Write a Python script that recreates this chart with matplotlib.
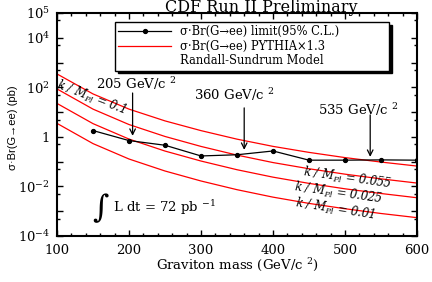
import matplotlib
matplotlib.use('Agg')
import matplotlib.pyplot as plt
from matplotlib.lines import Line2D
from matplotlib.ticker import FixedLocator, MultipleLocator, FixedFormatter, NullFormatter

# ---------------- data ----------------
mass_limit = [150, 200, 250, 300, 350, 400, 450, 500, 550, 600]
limit_xsec = [1.8, 0.71, 0.46, 0.17, 0.19, 0.27, 0.115, 0.115, 0.118, 0.115]

mass_rs = [100, 150, 200, 250, 300, 350, 400, 450, 500, 550, 600]
rs_k0100 = [347, 54.2, 13.2, 4.42, 1.79, 0.81, 0.414, 0.237, 0.146, 0.0964, 0.0665]
rs_k0055 = [86.1, 13.2, 3.15, 1.04, 0.412, 0.184, 0.092, 0.0518, 0.0313, 0.0202, 0.0137]
rs_k0025 = [22.4, 3.43, 0.816, 0.268, 0.106, 0.0473, 0.0237, 0.0133, 0.00803, 0.00519, 0.0035]
rs_k0010 = [3.51, 0.536, 0.128, 0.042, 0.0166, 0.0074, 0.0037, 0.00207, 0.00126, 0.00081, 0.00055]

ytick_values = [1e-4, 1e-3, 1e-2, 1e-1, 1, 1e1, 1e2, 1e3, 1e4, 1e5]
ytick_labels = ['$10^{-4}$', '', '$10^{-2}$', '', '1', '', '$10^{2}$', '', '$10^{4}$', '$10^{5}$']
xtick_values = [100, 200, 300, 400, 500, 600]

plt.rcParams['font.family'] = ['DejaVu Serif']
plt.rcParams['mathtext.fontset'] = 'dejavuserif'

fig = plt.figure(figsize=(4.32, 2.82), dpi=100)
ax = fig.add_axes([57/432, 1-236/282, 360/432, 223/282])

for ys in (rs_k0100, rs_k0055, rs_k0025, rs_k0010):
    ax.plot(mass_rs, ys, color='#ff0000', lw=0.9)
ax.plot(mass_limit, limit_xsec, color='black', lw=0.9, marker='o', ms=2.8)

ax.set_yscale('log')
ax.set_xlim(100, 600)
ax.set_ylim(1e-4, 1e5)

ax.yaxis.set_major_locator(FixedLocator(ytick_values))
ax.yaxis.set_major_formatter(FixedFormatter(ytick_labels))
ax.yaxis.set_minor_locator(FixedLocator([5 * v for v in ytick_values[:-1]]))
ax.yaxis.set_minor_formatter(NullFormatter())
ax.xaxis.set_major_locator(FixedLocator(xtick_values))
ax.xaxis.set_minor_locator(MultipleLocator(20))

ax.tick_params(which='both', direction='in', top=True, right=True, width=1.0)
ax.tick_params(which='major', length=4.5)
ax.tick_params(which='minor', length=2.2)
ax.tick_params(axis='x', labelsize=9.5, pad=6)
ax.tick_params(axis='y', labelsize=9.5, pad=5)
for sp in ax.spines.values():
    sp.set_linewidth(1.5)

ax.set_xlabel('Graviton mass (GeV/c $^{2}$)', fontsize=9.5, va='center')
ax.xaxis.set_label_coords(0.5, -0.128)
ax.set_ylabel('σ·Br(G→ee) (pb)', fontsize=8,
              family=['Liberation Sans Narrow', 'Liberation Sans', 'DejaVu Sans'], va='center')
ax.yaxis.set_label_coords(-0.122, 0.484)

fig.text(0.605, 1 - 7.5/282, 'CDF Run II Preliminary', ha='center', va='center', fontsize=11.5)

# legend
handles = [Line2D([], [], color='black', lw=0.9, marker='o', ms=2.8),
           Line2D([], [], color='#ff0000', lw=0.9),
           Line2D([], [], color='none')]
labels = ['σ·Br(G→ee) limit(95% C.L.)', 'σ·Br(G→ee) PYTHIA×1.3', 'Randall-Sundrum Model']
leg = ax.legend(handles, labels, loc='upper left', mode='expand',
                bbox_to_anchor=(0.161, 0.731, 0.761, 0.229), fontsize=8.3,
                handlelength=4.6, handletextpad=0.75, labelspacing=0.12,
                borderpad=0.3, numpoints=1, fancybox=False,
                shadow={'color': 'black', 'alpha': 1.0}, framealpha=1, borderaxespad=0)
leg.get_frame().set_edgecolor('black')
leg.get_frame().set_linewidth(1.0)

# mass annotations
arrow = dict(arrowstyle='->', color='black', lw=0.9, shrinkA=0, shrinkB=0)
ax.text(210, 137, '205 GeV/c $^{2}$', ha='center', va='center', fontsize=9.5)
ax.annotate('', xy=(205, 1.1), xytext=(205, 59), arrowprops=arrow)
ax.text(347, 49, '360 GeV/c $^{2}$', ha='center', va='center', fontsize=9.5)
ax.annotate('', xy=(360, 0.30), xytext=(360, 14.8), arrowprops=arrow)
ax.text(519, 12.3, '535 GeV/c $^{2}$', ha='center', va='center', fontsize=9.5)
ax.annotate('', xy=(535, 0.156), xytext=(535, 7.7), arrowprops=arrow)

# luminosity
ax.text(149, 1.37e-3, r'$\int$', ha='left', va='center', fontsize=16)
ax.text(178, 1.37e-3, 'L dt = 72 pb $^{-1}$', ha='left', va='center', fontsize=9.5)

# coupling labels
ax.text(147, 39.8, r'k / M$_{\mathit{Pl}}$ = 0.1', ha='center', va='center',
        fontsize=8.3, style='italic', rotation=-21)
ax.text(504, 0.0222, r'k / M$_{\mathit{Pl}}$ = 0.055', ha='center', va='center',
        fontsize=8.3, style='italic', rotation=-8)
ax.text(491, 5.18e-3, r'k / M$_{\mathit{Pl}}$ = 0.025', ha='center', va='center',
        fontsize=8.3, style='italic', rotation=-8)
ax.text(486, 1.22e-3, r'k / M$_{\mathit{Pl}}$ = 0.01', ha='center', va='center',
        fontsize=8.3, style='italic', rotation=-9)

fig.savefig('out.png', dpi=100)
